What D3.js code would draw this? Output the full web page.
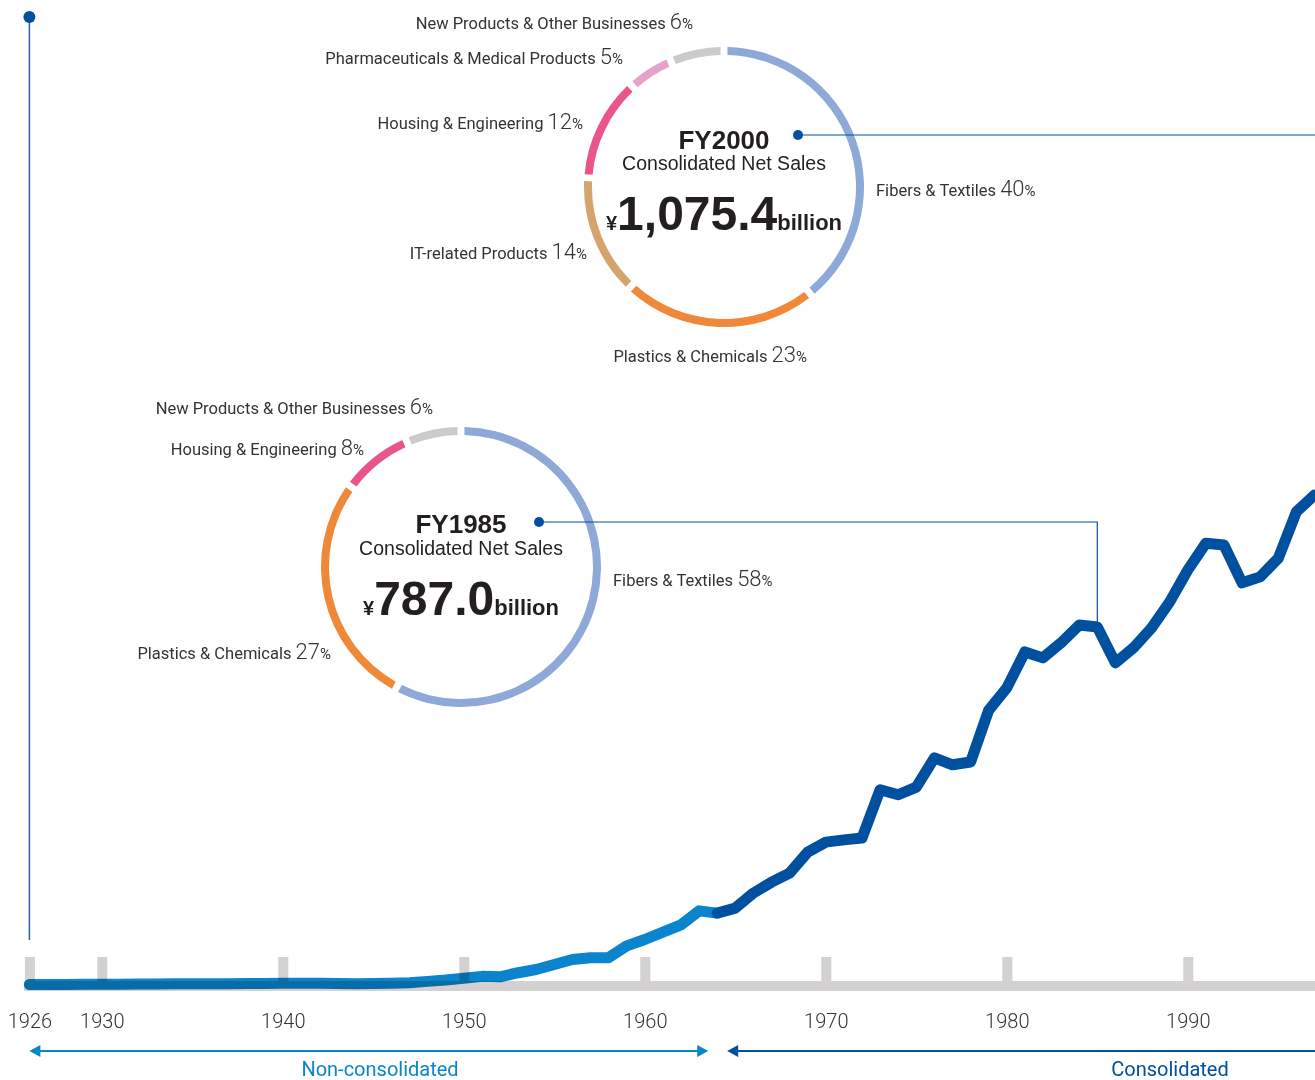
<!DOCTYPE html>
<html>
<head>
<meta charset="utf-8">
<script src="https://cdn.jsdelivr.net/npm/d3@7"></script>
<style>
  body { margin: 0; background: #fff; }
  svg { display: block; font-family: Roboto, "Liberation Sans", sans-serif; }
  .label { fill: #333; font-size: 16.5px; }
  .center { font-family: "Liberation Sans", Arial, sans-serif; fill: #231f20; }
</style>
</head>
<body>
<svg id="chart" width="1315" height="1080"></svg>
<script>
// net sales, billion yen
const nonConYears = [1926, 1927, 1928, 1929, 1930, 1931, 1932, 1933, 1934, 1935, 1936, 1937, 1938, 1939,
  1940, 1941, 1942, 1943, 1944, 1945, 1946, 1947, 1948, 1949, 1950, 1951, 1952, 1953, 1954, 1955,
  1956, 1957, 1958, 1959, 1960, 1961, 1962, 1963, 1964]
const nonConSales = [1, 1, 1, 1.5, 1.5, 1.5, 2, 2, 2.5, 3, 3, 3, 3.5, 3.5,
  4, 4, 4, 3.5, 3, 3.5, 4, 5, 8, 11, 15, 19, 18, 27, 34, 45,
  56, 60, 60, 86, 100, 116, 132, 163, 158]
const conYears = [1964, 1965, 1966, 1967, 1968, 1969, 1970, 1971, 1972, 1973, 1974, 1975, 1976, 1977,
  1978, 1979, 1980, 1981, 1982, 1983, 1984, 1985, 1986, 1987, 1988, 1989, 1990, 1991, 1992, 1993,
  1994, 1995, 1996, 1997]
const conSales = [158, 169, 202, 226, 246, 292, 314, 319, 323, 429, 418, 435, 499, 484,
  490, 604, 653, 732, 719, 752, 791, 787, 708, 741, 785, 842, 912, 971, 967, 884,
  897, 938, 1040, 1077]

const tickYears = [1926, 1930, 1940, 1950, 1960, 1970, 1980, 1990]

// segment breakdowns (%)
const seg2000Names = ["Fibers & Textiles", "Plastics & Chemicals", "IT-related Products",
  "Housing & Engineering", "Pharmaceuticals & Medical Products", "New Products & Other Businesses"]
const seg2000Shares = [40, 23, 14, 12, 5, 6]
const seg1985Names = ["Fibers & Textiles", "Plastics & Chemicals", "Housing & Engineering",
  "New Products & Other Businesses"]
const seg1985Shares = [58, 27, 8, 6]

const highlightYears = [1985, 2000]
const highlightSales = [787.0, 1075.4]
const highlightText = ["787.0", "1,075.4"]

const segColor = {
  "Fibers & Textiles": "#8ea8d8",
  "Plastics & Chemicals": "#f0883a",
  "IT-related Products": "#d4a46e",
  "Housing & Engineering": "#e9558a",
  "Pharmaceuticals & Medical Products": "#e7a2c9",
  "New Products & Other Businesses": "#cbcbcb"
}

const svg = d3.select("#chart")
const W = 1315

const x = d3.scaleLinear().domain([1926, 1990]).range([29.4, 1187.8])
const y = d3.scaleLinear().domain([0, 1000]).range([985, 530])

const light = "#0a84cc", dark = "#0050a0"

// left marker line
svg.append("line").attr("x1", x(1926)).attr("x2", x(1926)).attr("y1", 17).attr("y2", 940)
  .attr("stroke", "#2a5fa5").attr("stroke-width", 1.5)
svg.append("circle").attr("cx", x(1926)).attr("cy", 17).attr("r", 6).attr("fill", dark)

// baseline band + ticks
svg.append("rect").attr("x", 24).attr("y", 981).attr("width", W - 24).attr("height", 10).attr("fill", "#d3d1d1")
const tickG = svg.append("g").attr("transform", "translate(0,981)")
  .call(d3.axisTop(x).tickValues(tickYears).tickSize(24).tickFormat(""))
tickG.select(".domain").remove()
tickG.selectAll("line").attr("stroke", "#d3d1d1").attr("stroke-width", 10)

const labelG = svg.append("g").attr("transform", "translate(0,991)")
  .call(d3.axisBottom(x).tickValues(tickYears).tickSize(0).tickFormat(d3.format("d")))
labelG.select(".domain").remove()
labelG.selectAll("text").attr("y", 37).attr("dy", 0)
  .attr("font-family", "Roboto, sans-serif").attr("font-size", 20).attr("font-weight", 300).attr("fill", "#333")

// sales line
const line = d3.line().x(d => x(d[0])).y(d => y(d[1]))
svg.append("path").datum(d3.zip(nonConYears, nonConSales)).attr("d", line)
  .attr("fill", "none").attr("stroke", light).attr("stroke-width", 11)
  .attr("stroke-linecap", "round").attr("stroke-linejoin", "round").style("mix-blend-mode", "multiply")
svg.append("path").datum(d3.zip(conYears, conSales)).attr("d", line)
  .attr("fill", "none").attr("stroke", dark).attr("stroke-width", 11)
  .attr("stroke-linecap", "round").attr("stroke-linejoin", "round")

// consolidation arrows
function arrow(x1, x2, yy, color, headLeft, headRight) {
  const g = svg.append("g")
  g.append("line").attr("x1", x1 + (headLeft ? 6 : 0)).attr("x2", x2 - (headRight ? 6 : 0))
    .attr("y1", yy).attr("y2", yy).attr("stroke", color).attr("stroke-width", 2)
  if (headLeft) g.append("path").attr("d", `M${x1},${yy}l11,-6v12z`).attr("fill", color)
  if (headRight) g.append("path").attr("d", `M${x2},${yy}l-11,-6v12z`).attr("fill", color)
}
arrow(x(1926), x(1964) - 9, 1051, light, true, true)
arrow(x(1964) + 10, W + 20, 1051, dark, true, false)
svg.append("text").attr("x", 380).attr("y", 1076).attr("text-anchor", "middle")
  .attr("font-size", 20).attr("fill", light).text("Non-consolidated")
svg.append("text").attr("x", 1170).attr("y", 1076).attr("text-anchor", "middle")
  .attr("font-size", 20).attr("fill", dark).text("Consolidated")

// donuts
const pie = d3.pie().sort(null).padAngle(0.036)
const arc = d3.arc().innerRadius(132).outerRadius(140)

const donuts = [
  { idx: 0, cx: 461, cy: 567, names: seg1985Names, shares: seg1985Shares,
    dot: [539, 522], titleY: -34.5, subY: -12, bigY: 48, labels: {
      "New Products & Other Businesses": [433, 413.5, "end"],
      "Housing & Engineering": [364, 454.5, "end"],
      "Plastics & Chemicals": [331, 658.5, "end"],
      "Fibers & Textiles": [613, 585.5, "start"] } },
  { idx: 1, cx: 724, cy: 187, names: seg2000Names, shares: seg2000Shares,
    dot: [798, 135], titleY: -38.5, subY: -17, bigY: 43, labels: {
      "New Products & Other Businesses": [693, 28.5, "end"],
      "Pharmaceuticals & Medical Products": [623, 63.5, "end"],
      "Housing & Engineering": [583, 128.5, "end"],
      "IT-related Products": [587, 258.5, "end"],
      "Plastics & Chemicals": [807, 361.5, "end"],
      "Fibers & Textiles": [876, 195.5, "start"] } }
]

donuts.forEach(dn => {
  const g = svg.append("g").attr("transform", `translate(${dn.cx},${dn.cy})`)
  g.selectAll("path").data(pie(dn.shares)).join("path")
    .attr("d", arc).attr("fill", (d, i) => segColor[dn.names[i]])

  const fy = highlightYears[dn.idx]
  g.append("text").attr("class", "center").attr("text-anchor", "middle").attr("y", dn.titleY)
    .style("font-weight", "bold").attr("font-size", 26).text("FY" + fy)
  g.append("text").attr("class", "center").attr("text-anchor", "middle").attr("y", dn.subY)
    .style("font-weight", "normal").attr("font-size", 19.5).text("Consolidated Net Sales")
  const big = g.append("text").attr("class", "center").attr("text-anchor", "middle").attr("y", dn.bigY)
    .style("font-weight", "bold")
  big.append("tspan").attr("font-size", 20).text("¥")
  big.append("tspan").attr("font-size", 48).text(highlightText[dn.idx])
  big.append("tspan").attr("font-size", 22).text("billion")

  dn.names.forEach((name, i) => {
    const [lx, ly, anchor] = dn.labels[name]
    const t = svg.append("text").attr("class", "label").attr("x", lx).attr("y", ly).attr("text-anchor", anchor)
    t.append("tspan").text(name + " ")
    t.append("tspan").attr("font-size", 22).attr("font-weight", 300).text(dn.shares[i])
    t.append("tspan").attr("font-size", 15).text("%")
  })

  // connector to the sales line
  svg.append("path")
    .attr("d", `M${dn.dot[0]},${dn.dot[1]}H${x(fy)}V${y(highlightSales[dn.idx])}`)
    .attr("fill", "none").attr("stroke", dark).attr("stroke-width", 1.2)
  svg.append("circle").attr("cx", dn.dot[0]).attr("cy", dn.dot[1]).attr("r", 5).attr("fill", dark)
})
</script>
</body>
</html>
